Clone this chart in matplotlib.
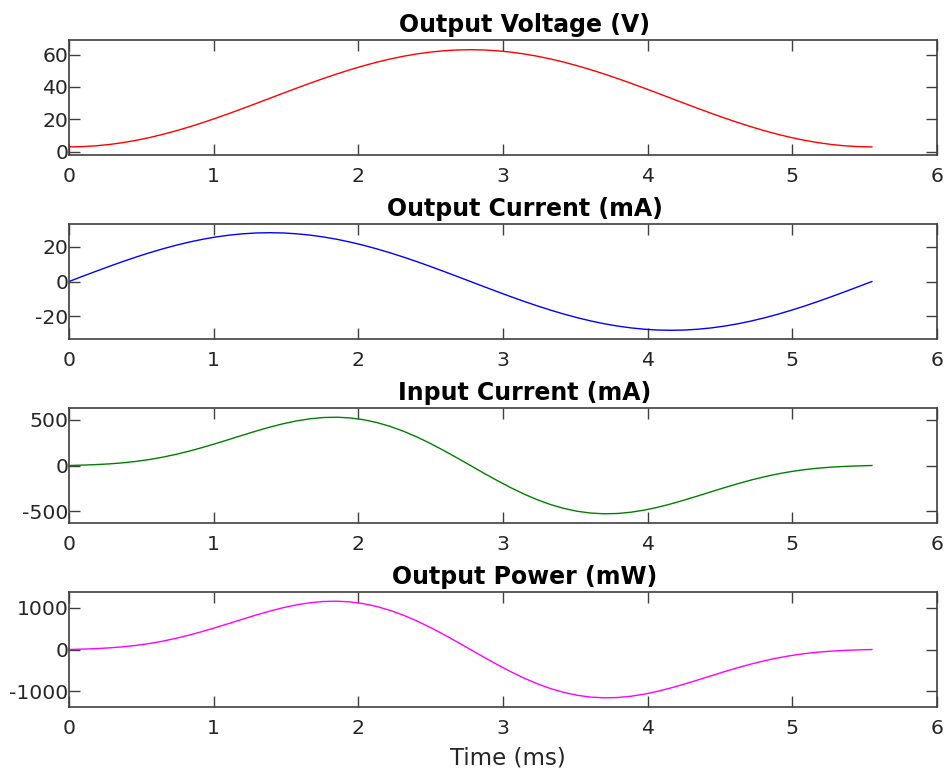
import matplotlib
matplotlib.use("Agg")
import matplotlib.pyplot as plt

# Time samples (ms)
time_ms = [0.0, 0.0925, 0.185, 0.2775, 0.37, 0.4625, 0.555, 0.6475, 0.74, 0.8325,
           0.925, 1.0175, 1.11, 1.2025, 1.295, 1.3875, 1.48, 1.5725, 1.665, 1.7575,
           1.85, 1.9425, 2.035, 2.1275, 2.22, 2.3125, 2.405, 2.4975, 2.59, 2.6825,
           2.775, 2.8675, 2.96, 3.0525, 3.145, 3.2375, 3.33, 3.4225, 3.515, 3.6075,
           3.7, 3.7925, 3.885, 3.9775, 4.07, 4.1625, 4.255, 4.3475, 4.44, 4.5325,
           4.625, 4.7175, 4.81, 4.9025, 4.995, 5.0875, 5.18, 5.2725, 5.365, 5.4575, 5.55]

output_voltage = [3.00, 3.17, 3.66, 4.47, 5.59, 7.02, 8.73, 10.71, 12.93, 15.37,
                  18.00, 20.80, 23.73, 26.76, 29.86, 33.00, 36.14, 39.24, 42.27, 45.20,
                  48.00, 50.63, 53.07, 55.29, 57.27, 58.98, 60.41, 61.53, 62.34, 62.84,
                  63.00, 62.84, 62.34, 61.53, 60.41, 58.98, 57.27, 55.29, 53.07, 50.63,
                  48.00, 45.20, 42.27, 39.24, 36.14, 33.00, 29.86, 26.76, 23.73, 20.80,
                  18.00, 15.37, 12.93, 10.71, 8.73, 7.02, 5.59, 4.47, 3.66, 3.17, 3.00]

output_current = [0.00, 2.93, 5.82, 8.65, 11.39, 14.00, 16.46, 18.73, 20.81, 22.65,
                  24.25, 25.58, 26.63, 27.39, 27.85, 28.00, 27.85, 27.39, 26.63, 25.58,
                  24.25, 22.65, 20.81, 18.73, 16.46, 14.00, 11.39, 8.65, 5.82, 2.93,
                  0.00, -2.93, -5.82, -8.65, -11.39, -14.00, -16.46, -18.73, -20.81, -22.65,
                  -24.25, -25.58, -26.63, -27.39, -27.85, -28.00, -27.85, -27.39, -26.63, -25.58,
                  -24.25, -22.65, -20.81, -18.73, -16.46, -14.00, -11.39, -8.65, -5.82, -2.93, 0.00]

input_current = [0.0, 4.2, 9.7, 17.6, 28.9, 44.7, 65.3, 91.2, 122.3, 158.2,
                 198.4, 241.8, 287.2, 333.2, 378.0, 420.0, 457.5, 488.5, 511.7, 525.6,
                 529.1, 521.3, 502.0, 470.7, 428.5, 375.3, 312.8, 241.9, 164.9, 83.7,
                 0.0, -83.7, -164.9, -241.9, -312.8, -375.3, -428.5, -470.7, -502.0, -521.3,
                 -529.1, -525.6, -511.7, -488.5, -457.5, -420.0, -378.0, -333.2, -287.2, -241.8,
                 -198.4, -158.2, -122.3, -91.2, -65.3, -44.7, -28.9, -17.6, -9.7, -4.2, 0.0]

output_power = [0.0, 9.3, 21.3, 38.7, 63.7, 98.3, 143.7, 200.6, 269.1, 348.1,
                436.5, 532.1, 631.9, 733.0, 831.6, 924.0, 1006.5, 1074.8, 1125.7, 1156.2,
                1164.0, 1146.8, 1104.4, 1035.6, 942.7, 825.7, 688.1, 532.2, 362.8, 184.1,
                0.0, -184.1, -362.8, -532.2, -688.1, -825.7, -942.7, -1035.6, -1104.4, -1146.8,
                -1164.0, -1156.2, -1125.7, -1074.8, -1006.5, -924.0, -831.6, -733.0, -631.9, -532.1,
                -436.5, -348.1, -269.1, -200.6, -143.7, -98.3, -63.7, -38.7, -21.3, -9.3, 0.0]

titles = ["Output Voltage (V)", "Output Current (mA)", "Input Current (mA)", "Output Power (mW)"]
series = [output_voltage, output_current, input_current, output_power]
colors = ["#ff0000", "#0000ff", "#008000", "#ff00ff"]
ylims = [(-2, 69), (-33, 33), (-630, 630), (-1385, 1385)]
yticks = [[0, 20, 40, 60], [-20, 0, 20], [-500, 0, 500], [-1000, 0, 1000]]
xticks = [0, 1, 2, 3, 4, 5, 6]

W, H = 944, 769
fig = plt.figure(figsize=(W / 100, H / 100), dpi=100)

left, right = 69, 937
tops = [40, 224, 408, 592]
height = 115

tick_col = "#262626"
spine_col = "#404040"

for i in range(4):
    ax = fig.add_axes([left / W, 1 - (tops[i] + height) / H, (right - left) / W, height / H])
    ax.plot(time_ms, series[i], color=colors[i], lw=1.0)
    ax.set_xlim(0, 6)
    ax.set_ylim(*ylims[i])
    ax.set_xticks(xticks)
    ax.set_yticks(yticks[i])
    ax.set_yticklabels([str(v) for v in yticks[i]])
    ax.tick_params(direction="in", length=8, width=1, top=True, right=True,
                   labelsize=14.7, colors=spine_col, labelcolor=tick_col)
    ax.tick_params(axis="x", pad=8.5)
    ax.tick_params(axis="y", pad=0.5)
    for s in ax.spines.values():
        s.set_color(spine_col)
        s.set_linewidth(1.2)
    ax.set_title(titles[i], fontsize=17, fontweight="bold", color="black", pad=6, x=0.5248)
    if i == 3:
        ax.set_xlabel("Time (ms)", fontsize=16.5, color=tick_col)
        ax.xaxis.set_label_coords(0.5058, -0.345)

fig.savefig("out.png", dpi=100)
